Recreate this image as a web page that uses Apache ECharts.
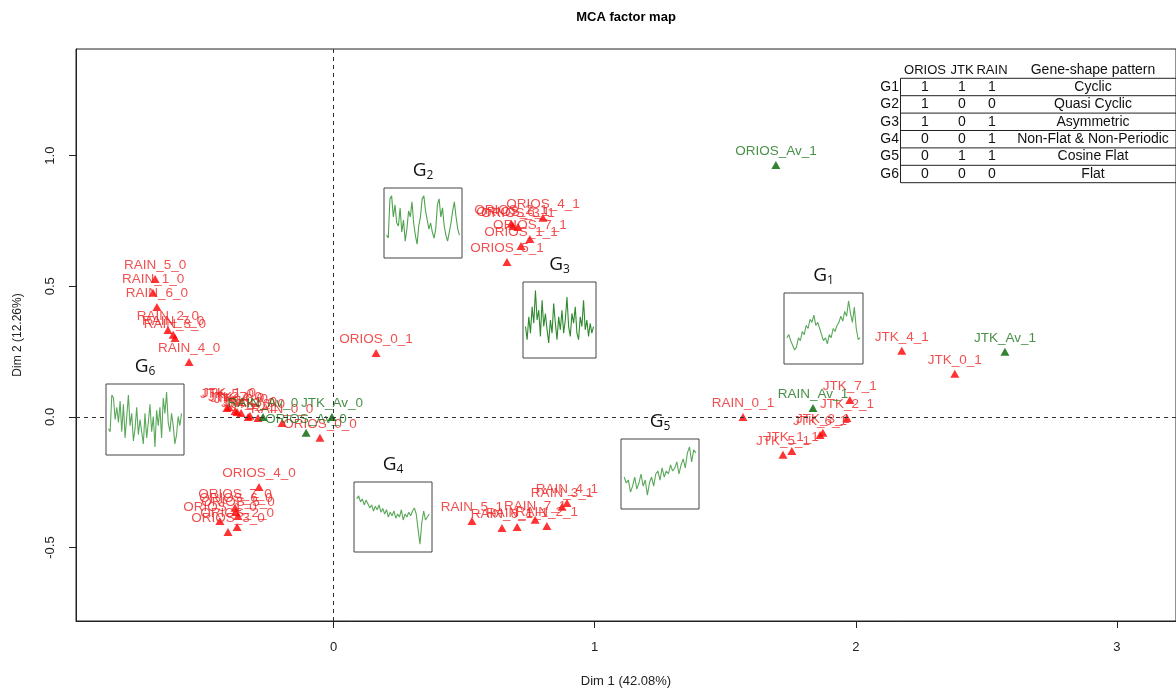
<!DOCTYPE html>
<html><head><meta charset="utf-8">
<script src="https://cdn.jsdelivr.net/npm/echarts@6/dist/echarts.min.js"></script>
<style>html,body{margin:0;padding:0;background:#fff}#c{width:1176px;height:695px}</style>
</head><body><div id="c"></div>
<script>
// ---- active categories (red) ----
const redNames = [
  'RAIN_5_0','RAIN_1_0','RAIN_6_0','RAIN_2_0','RAIN_7_0','RAIN_3_0','RAIN_4_0','RAIN_0_0',
  'JTK_5_0','JTK_1_0','JTK_4_0','JTK_7_0','JTK_0_0','JTK_2_0','JTK_3_0','JTK_6_0',
  'ORIOS_0_0','ORIOS_4_0','ORIOS_7_0','ORIOS_6_0','ORIOS_5_0','ORIOS_1_0','ORIOS_2_0','ORIOS_3_0',
  'ORIOS_0_1','ORIOS_4_1','ORIOS_2_1','ORIOS_6_1','ORIOS_3_1','ORIOS_7_1','ORIOS_1_1','ORIOS_5_1',
  'RAIN_0_1','RAIN_5_1','RAIN_6_1','RAIN_1_1','RAIN_7_1','RAIN_2_1','RAIN_3_1','RAIN_4_1',
  'JTK_0_1','JTK_4_1','JTK_7_1','JTK_2_1','JTK_3_1','JTK_6_1','JTK_1_1','JTK_5_1'
];
const redX = [
  -0.683,-0.691,-0.676,-0.634,-0.614,-0.607,-0.553,-0.197,
  -0.408,-0.400,-0.369,-0.377,-0.354,-0.327,-0.320,-0.289,
  -0.052,-0.285,-0.377,-0.373,-0.366,-0.435,-0.369,-0.404,
  0.163,0.802,0.680,0.687,0.706,0.752,0.718,0.664,
  1.568,0.530,0.645,0.703,0.772,0.817,0.875,0.894,
  2.379,2.176,1.977,1.966,1.874,1.863,1.755,1.721
];
const redY = [
  0.528,0.475,0.421,0.333,0.314,0.302,0.210,-0.023,
  0.034,0.038,0.019,0.023,0.015,0.000,0.004,-0.004,
  -0.080,-0.268,-0.348,-0.364,-0.379,-0.398,-0.421,-0.440,
  0.245,0.762,0.739,0.731,0.727,0.681,0.654,0.593,
  0.000,-0.398,-0.425,-0.421,-0.394,-0.417,-0.344,-0.329,
  0.165,0.253,0.065,-0.004,-0.061,-0.069,-0.130,-0.145
];
// ---- supplementary categories (green) ----
const greenNames = ['ORIOS_Av_1','JTK_Av_1','RAIN_Av_1','RAIN_Av_0','JTK_Av_0','ORIOS_Av_0'];
const greenX = [1.694,2.571,1.836,-0.270,-0.006,-0.105];
const greenY = [0.964,0.249,0.034,0.000,0.000,-0.061];
// ---- axes ----
const xTicks = [0,1,2,3];
const yTicks = [-0.5,0,0.5,1];
const xName = 'Dim 1 (42.08%)';
const yName = 'Dim 2 (12.26%)';
const chartTitle = 'MCA factor map';
// ---- table ----
const tableHeader = ['ORIOS','JTK','RAIN','Gene-shape pattern'];
const tableGroups = ['G1','G2','G3','G4','G5','G6'];
const tableORIOS = [1,1,1,0,0,0];
const tableJTK   = [1,0,0,0,1,0];
const tableRAIN  = [1,0,1,1,1,0];
const tablePattern = ['Cyclic','Quasi Cyclic','Asymmetric','Non-Flat & Non-Periodic','Cosine Flat','Flat'];
// ---- gene-shape sparkline profiles ----
const g1 = [0.35,0.4,0.3,0.32,0.15,0.2,0.35,0.3,0.45,0.4,0.55,0.5,0.65,0.6,0.72,0.55,0.6,0.5,0.4,0.3,0.35,0.25,0.4,0.35,0.5,0.45,0.55,0.6,0.7,0.62,0.78,0.7,0.95,0.75,0.6,0.85,0.5,0.32,0.35];
const g2 = [0.3,0.25,0.9,0.95,0.6,0.8,0.5,0.45,0.75,0.35,0.55,0.2,0.4,0.7,0.6,0.85,0.5,0.3,0.15,0.45,0.6,0.9,0.95,0.7,0.55,0.4,0.5,0.35,0.25,0.4,0.8,0.9,0.6,0.75,0.45,0.3,0.2,0.35,0.5,0.7,0.85,0.6,0.4,0.3];
const g3 = [0.4,0.2,0.55,0.3,0.7,0.45,0.95,0.5,0.65,0.25,0.8,0.4,0.6,0.35,0.15,0.5,0.3,0.75,0.45,0.2,0.55,0.35,0.65,0.3,0.5,0.85,0.4,0.25,0.6,0.45,0.7,0.3,0.2,0.55,0.4,0.8,0.35,0.5,0.25,0.45,0.3,0.4];
const g4 = [0.8,0.85,0.75,0.8,0.7,0.78,0.72,0.65,0.7,0.6,0.68,0.62,0.7,0.58,0.64,0.55,0.62,0.5,0.58,0.52,0.6,0.48,0.55,0.5,0.62,0.45,0.55,0.5,0.58,0.52,0.6,0.65,0.55,0.3,0.05,0.4,0.6,0.45,0.5,0.55];
const g5 = [0.45,0.35,0.4,0.2,0.3,0.45,0.25,0.35,0.5,0.3,0.4,0.15,0.35,0.45,0.3,0.5,0.55,0.4,0.6,0.45,0.55,0.5,0.65,0.55,0.6,0.7,0.5,0.65,0.75,0.6,0.85,0.95,0.7,0.9,0.85];
const g6 = [0.35,0.3,0.9,0.85,0.5,0.7,0.45,0.8,0.3,0.75,0.2,0.55,0.9,0.4,0.6,0.15,0.35,0.7,0.25,0.5,0.3,0.1,0.6,0.2,0.45,0.75,0.3,0.55,0.05,0.65,0.4,0.7,0.2,0.85,0.6,0.95,0.45,0.3,0.6,0.4,0.1,0.25,0.55,0.4,0.6];

const FONT = 'Liberation Sans, Arial, sans-serif';
const insets = [
  {sub:'1', data:g1, box:[784,293,79,71], color:'#5aa85a'},
  {sub:'2', data:g2, box:[384,188,78,70], color:'#4fa34f'},
  {sub:'3', data:g3, box:[523,282,73,76], color:'#2f8a2f'},
  {sub:'4', data:g4, box:[354,482,78,70], color:'#5aa85a'},
  {sub:'5', data:g5, box:[621,439,78,70], color:'#5aa85a'},
  {sub:'6', data:g6, box:[106,384,78,71], color:'#5aa85a'}
];

const grids = [{left:76, top:49, width:1100, height:572, show:true, borderColor:'#222', borderWidth:1, z:1}];
const xAxes = [{
  type:'value', gridIndex:0, min:-0.986, max:3.226,
  axisLine:{show:true, onZero:false, lineStyle:{color:'#222'}},
  axisTick:{show:true, customValues:xTicks, length:7, lineStyle:{color:'#222'}},
  axisLabel:{customValues:xTicks, formatter:v=>String(v), margin:20, fontSize:13, color:'#222', fontFamily:FONT},
  splitLine:{show:false},
  name:xName, nameLocation:'middle', nameGap:54, nameTextStyle:{fontSize:13, color:'#222', fontFamily:FONT}
}];
const yAxes = [{
  type:'value', gridIndex:0, min:-0.781, max:1.408,
  axisLine:{show:true, onZero:false, lineStyle:{color:'#222'}},
  axisTick:{show:true, customValues:yTicks, length:7, lineStyle:{color:'#222'}},
  axisLabel:{customValues:yTicks, formatter:v=>v.toFixed(1), rotate:90, margin:19, fontSize:13, color:'#222', fontFamily:FONT},
  splitLine:{show:false},
  name:yName, nameLocation:'middle', nameGap:52, nameRotate:90, nameTextStyle:{fontSize:12, color:'#222', fontFamily:FONT}
}];

const series = [
  {
    type:'scatter', xAxisIndex:0, yAxisIndex:0, symbol:'triangle', symbolSize:[9,8], z:3,
    itemStyle:{color:'#ff0000'},
    label:{show:true, position:'top', distance:3, formatter:p=>p.name, color:'#ee2424', fontSize:13.5, fontFamily:FONT},
    data: redNames.map((n,i)=>({name:n, value:[redX[i], redY[i]]})),
    markLine:{silent:true, symbol:'none', label:{show:false}, animation:false,
      lineStyle:{type:[4,4], color:'#333', width:1},
      data:[{xAxis:0},{yAxis:0}]}
  },
  {
    type:'scatter', xAxisIndex:0, yAxisIndex:0, symbol:'triangle', symbolSize:[9,8], z:4,
    itemStyle:{color:'#006400'},
    label:{show:true, position:'top', distance:3, formatter:p=>p.name, color:'#1a741a', fontSize:13.5, fontFamily:FONT},
    data: greenNames.map((n,i)=>({name:n, value:[greenX[i], greenY[i]]}))
  }
];

const graphics = [];
graphics.push({type:'text', x:626, y:17, style:{text:chartTitle, font:'bold 13px '+FONT, fill:'#000', align:'center', verticalAlign:'middle'}});

insets.forEach((ins,k)=>{
  const gi = k+1;
  const [l,t,w,h] = ins.box;
  grids.push({left:l, top:t, width:w, height:h, show:true, borderColor:'#444', borderWidth:1, backgroundColor:'#fff', z:10});
  xAxes.push({type:'value', gridIndex:gi, min:-1.5, max:ins.data.length+0.5, show:false});
  yAxes.push({type:'value', gridIndex:gi, min:-0.08, max:1.08, show:false});
  series.push({type:'line', xAxisIndex:gi, yAxisIndex:gi, z:11, symbol:'none', silent:true,
    lineStyle:{width:1.1, color:ins.color}, data:ins.data.map((v,j)=>[j,v])});
  graphics.push({type:'text', x:l+w/2, y:t-17, z:20, style:{
    text:'{a|G}{b|'+ins.sub+'}', align:'center', verticalAlign:'middle', fill:'#111',
    rich:{a:{fontSize:19, fontFamily:'Open Sans, Noto Sans, sans-serif', fill:'#111'},
          b:{fontSize:12, fontFamily:'Open Sans, Noto Sans, sans-serif', fill:'#111', padding:[9,0,0,0]}}}});
});

// table
const colX = [925, 962, 992, 1093];
const headY = 70, row0 = 78.3, rowH = 17.4;
tableHeader.forEach((h,i)=>graphics.push({type:'text', x:colX[i], y:headY, z:20,
  style:{text:h, font:(i<3?'13px ':'14px ')+FONT, fill:'#111', align:'center', verticalAlign:'middle'}}));
for (let k=0;k<=tableGroups.length;k++){
  graphics.push({type:'line', z:20, shape:{x1:900.5, y1:row0+rowH*k, x2:1176, y2:row0+rowH*k}, style:{stroke:'#222', lineWidth:1}});
}
graphics.push({type:'line', z:20, shape:{x1:900.5, y1:row0, x2:900.5, y2:row0+rowH*tableGroups.length}, style:{stroke:'#222', lineWidth:1}});
tableGroups.forEach((g,i)=>{
  const cy = row0 + rowH*i + rowH/2;
  const vals = [tableORIOS[i], tableJTK[i], tableRAIN[i], tablePattern[i]];
  graphics.push({type:'text', x:899, y:cy, z:20, style:{text:g, font:'14px '+FONT, fill:'#111', align:'right', verticalAlign:'middle'}});
  vals.forEach((v,j)=>graphics.push({type:'text', x:colX[j], y:cy, z:20,
    style:{text:String(v), font:'14px '+FONT, fill:'#111', align:'center', verticalAlign:'middle'}}));
});

const chart = echarts.init(document.getElementById('c'), null, {renderer:'canvas'});
chart.setOption({
  animation:false,
  backgroundColor:'#fff',
  grid:grids, xAxis:xAxes, yAxis:yAxes, series:series, graphic:graphics
});
</script></body></html>
